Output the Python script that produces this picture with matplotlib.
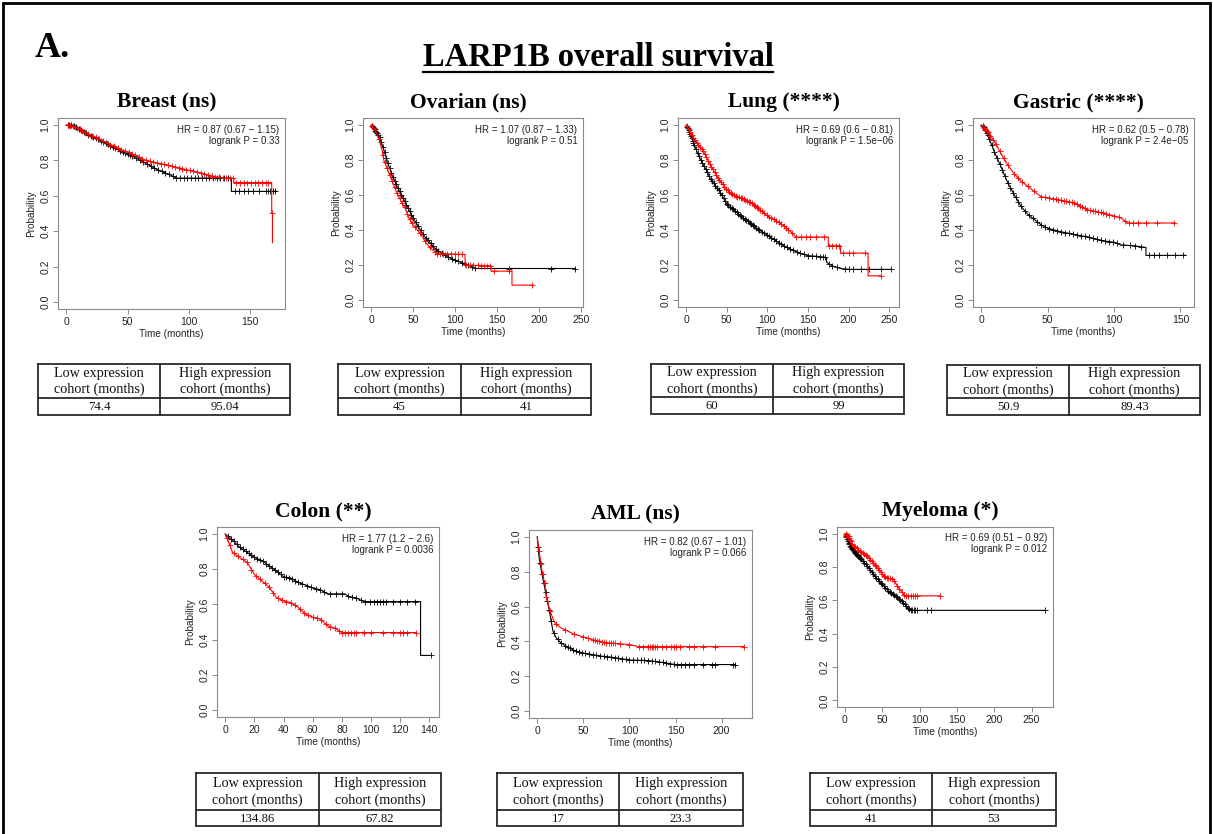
import numpy as np
import matplotlib.pyplot as plt

# ---------------------------------------------------------------
# KM curve knots (time in months, survival)
# low = black, high = red
# ---------------------------------------------------------------
breast_low_t = [0, 5, 10, 16, 30, 44, 55, 65, 75, 85, 90, 96, 135, 135, 172]
breast_low_s = [1, 1.0, 0.98, 0.953, 0.906, 0.855, 0.82, 0.784, 0.746, 0.718, 0.70, 0.70, 0.70, 0.625, 0.625]
breast_low_c = [1, 2, 4, 6, 8, 10, 12, 14, 16, 18, 20, 22, 24, 26, 28, 30, 32, 34, 36, 38, 40, 42, 44, 46, 48, 50,
                52, 54, 57, 60, 63, 66, 69, 72, 75, 78, 81, 84, 87, 90, 93, 96, 99, 102, 105, 108, 111, 114, 117,
                120, 123, 126, 129, 132, 138, 141, 145, 149, 153, 158, 163, 165, 167, 169, 171]
breast_high_t = [0, 8, 15, 30, 45, 55, 65, 75, 85, 100, 110, 120, 130, 137, 137, 168, 168, 168.6, 168.6]
breast_high_s = [1, 0.99, 0.96, 0.91, 0.86, 0.835, 0.80, 0.785, 0.77, 0.745, 0.73, 0.71, 0.70, 0.70, 0.675, 0.675,
                 0.505, 0.505, 0.335]
breast_high_c = [1, 3, 5, 7, 9, 11, 13, 15, 18, 21, 24, 27, 30, 33, 36, 39, 42, 45, 48, 51, 54, 56, 59, 62, 65, 68,
                 71, 74, 77, 80, 83, 86, 89, 92, 95, 98, 101, 104, 107, 110, 113, 116, 119, 122, 125, 128, 131, 134,
                 136, 139, 142, 145, 148, 151, 154, 157, 160, 163, 165, 168.3]

ovarian_low_t = [0, 5, 10, 15, 20, 25, 30, 35, 40, 45, 50, 55, 60, 65, 70, 75, 80, 90, 100, 110, 120, 125, 243]
ovarian_low_s = [1, 0.968, 0.93, 0.86, 0.78, 0.715, 0.66, 0.61, 0.565, 0.516, 0.47, 0.43, 0.39, 0.355, 0.33, 0.30,
                 0.28, 0.25, 0.228, 0.21, 0.19, 0.18, 0.18]
ovarian_low_c = [1, 2, 3, 4, 5, 6, 7, 8, 10, 12, 14, 16, 18, 20, 22, 24, 26, 28, 30, 32, 34, 36, 38, 40, 42, 44, 46,
                 48, 50, 53, 56, 59, 62, 65, 68, 71, 74, 77, 80, 84, 88, 92, 96, 100, 104, 108, 112, 116, 120, 124,
                 165, 214, 243]
ovarian_high_t = [0, 5, 10, 13, 15, 20, 25, 30, 35, 40, 45, 50, 55, 60, 65, 70, 75, 80, 85, 112, 112, 143, 143, 168,
                  168, 193]
ovarian_high_s = [1, 0.97, 0.91, 0.86, 0.80, 0.74, 0.68, 0.62, 0.57, 0.53, 0.47, 0.43, 0.40, 0.37, 0.33, 0.30, 0.28,
                  0.26, 0.265, 0.26, 0.200, 0.195, 0.165, 0.165, 0.085, 0.085]
ovarian_high_c = [1, 4, 9, 14, 16, 19, 22, 25, 28, 31, 34, 37, 40, 43, 46, 49, 52, 58, 64, 70, 76, 79, 82, 86, 90, 95,
                  100, 104, 108, 113, 118, 122, 128, 131, 135, 138, 142, 146, 165, 192]

lung_low_t = [0, 5, 10, 15, 20, 25, 30, 40, 50, 60, 70, 80, 90, 100, 110, 120, 130, 140, 150, 160, 170, 173, 173,
              180, 190, 200, 252]
lung_low_s = [1, 0.95, 0.885, 0.83, 0.78, 0.74, 0.69, 0.63, 0.55, 0.51, 0.47, 0.435, 0.40, 0.37, 0.34, 0.31, 0.287,
              0.268, 0.253, 0.25, 0.245, 0.24, 0.215, 0.195, 0.18, 0.175, 0.175]
lung_low_c = [1, 2, 3, 4, 5, 6, 7, 8, 9, 10, 12, 14, 16, 18, 20, 22, 24, 26, 28, 30, 32, 34, 36, 38, 40, 42, 44, 46,
              48, 50, 52, 54, 56, 58, 60, 62, 64, 66, 68, 70, 72, 74, 76, 78, 80, 82, 84, 86, 88, 90, 93, 96, 99,
              102, 105, 108, 111, 114, 117, 120, 124, 128, 132, 136, 140, 145, 150, 155, 160, 165, 168, 171, 176,
              180, 186, 195, 200, 205, 215, 225, 240, 252]
lung_high_t = [0, 5, 10, 15, 20, 30, 40, 50, 60, 70, 80, 90, 100, 110, 120, 130, 135, 175, 175, 190, 190, 224, 224,
               240]
lung_high_s = [1, 0.96, 0.92, 0.885, 0.86, 0.77, 0.69, 0.63, 0.595, 0.58, 0.555, 0.52, 0.48, 0.455, 0.425, 0.385,
               0.36, 0.36, 0.31, 0.31, 0.268, 0.268, 0.138, 0.138]
lung_high_c = [1, 3, 5, 7, 9, 11, 13, 15, 17, 19, 21, 23, 25, 27, 29, 31, 33, 35, 37, 39, 41, 43, 45, 47, 49, 51, 53,
               55, 57, 59, 61, 63, 65, 67, 69, 71, 73, 75, 77, 79, 81, 83, 85, 87, 89, 91, 93, 96, 99, 102, 105, 108,
               111, 114, 117, 120, 123, 126, 130, 135, 141, 147, 153, 160, 170, 176, 180, 184, 188, 193, 200, 205,
               220, 240]

gastric_low_t = [0, 2, 5, 8, 10, 15, 20, 25, 30, 35, 40, 45, 50, 60, 70, 80, 90, 100, 105, 115, 124, 124, 154]
gastric_low_s = [1, 0.99, 0.94, 0.885, 0.845, 0.76, 0.67, 0.60, 0.535, 0.49, 0.46, 0.43, 0.41, 0.39, 0.375, 0.36,
                 0.34, 0.33, 0.315, 0.31, 0.30, 0.255, 0.255]
gastric_low_c = [1, 2, 3, 4, 5, 6, 8, 10, 12, 14, 16, 18, 20, 22, 24, 26, 28, 30, 33, 36, 39, 42, 45, 48, 51, 54, 57,
                 60, 63, 66, 69, 72, 75, 78, 81, 84, 87, 90, 93, 96, 99, 102, 107, 112, 116, 120, 126, 130, 134, 140,
                 146, 152]
gastric_high_t = [0, 5, 10, 15, 20, 25, 30, 35, 40, 45, 50, 60, 70, 75, 80, 90, 100, 105, 110, 146]
gastric_high_s = [1, 0.96, 0.905, 0.835, 0.77, 0.72, 0.68, 0.65, 0.62, 0.59, 0.585, 0.57, 0.555, 0.535, 0.515, 0.50,
                  0.48, 0.47, 0.44, 0.44]
gastric_high_c = [1, 2, 3, 4, 5, 7, 9, 11, 14, 17, 20, 25, 28, 31, 35, 40, 45, 48, 51, 54, 56, 58, 60, 62, 64, 66,
                  68, 70, 72, 74, 76, 78, 80, 82, 84, 86, 88, 90, 92, 94, 96, 100, 104, 108, 111, 114, 118, 124, 132,
                  145]

colon_low_t = [0, 5, 10, 15, 20, 25, 30, 35, 40, 45, 50, 55, 60, 65, 70, 82, 85, 90, 95, 134, 134, 141]
colon_low_s = [1, 0.966, 0.924, 0.896, 0.867, 0.85, 0.82, 0.79, 0.757, 0.75, 0.725, 0.71, 0.693, 0.684, 0.66, 0.66,
               0.644, 0.636, 0.616, 0.616, 0.31, 0.31]
colon_low_c = [2, 4, 6, 8, 10, 12, 14, 16, 18, 20, 22, 24, 26, 28, 30, 32, 34, 36, 38, 40, 42, 44, 46, 48, 50, 53,
               56, 59, 62, 65, 68, 72, 76, 80, 84, 87, 90, 93, 96, 99, 102, 104, 106, 108, 110, 115, 120, 125, 130,
               141]
colon_high_t = [0, 3, 5, 10, 15, 20, 25, 30, 35, 40, 45, 50, 55, 60, 65, 70, 75, 80, 131]
colon_high_s = [1, 0.94, 0.896, 0.867, 0.84, 0.77, 0.735, 0.70, 0.64, 0.62, 0.61, 0.583, 0.545, 0.527, 0.517, 0.48,
                0.466, 0.44, 0.44]
colon_high_c = [1, 3, 6, 9, 12, 15, 18, 21, 24, 27, 30, 33, 36, 39, 42, 45, 48, 51, 54, 57, 60, 63, 66, 69, 72, 75,
                78, 80, 82, 84, 86, 88, 90, 95, 100, 108, 115, 120, 122, 125, 131]

aml_low_t = [0, 2, 5, 8, 10, 13, 15, 17, 20, 25, 30, 35, 40, 50, 60, 70, 80, 100, 120, 135, 150, 215]
aml_low_s = [1, 0.88, 0.79, 0.71, 0.655, 0.58, 0.52, 0.46, 0.425, 0.395, 0.376, 0.363, 0.348, 0.333, 0.324, 0.315,
             0.31, 0.293, 0.29, 0.28, 0.267, 0.267]
aml_low_c = [1, 3, 5, 7, 9, 11, 13, 15, 18, 22, 26, 30, 33, 36, 39, 42, 45, 48, 52, 56, 60, 64, 68, 72, 76, 80, 84,
             88, 92, 96, 100, 104, 108, 112, 116, 120, 124, 128, 132, 136, 140, 144, 148, 152, 156, 160, 165, 170,
             180, 190, 193, 212, 215]
aml_high_t = [0, 2, 5, 8, 10, 13, 15, 17, 20, 25, 30, 35, 40, 45, 50, 60, 70, 80, 100, 110, 224]
aml_high_s = [1, 0.92, 0.81, 0.734, 0.656, 0.59, 0.56, 0.53, 0.50, 0.48, 0.467, 0.454, 0.44, 0.434, 0.425, 0.41,
              0.396, 0.39, 0.382, 0.37, 0.37]
aml_high_c = [2, 4, 6, 8, 10, 14, 20, 30, 40, 50, 55, 60, 63, 65, 67, 70, 72, 75, 78, 80, 82, 84, 90, 100, 110, 115,
              120, 122, 124, 126, 128, 130, 135, 140, 145, 148, 150, 155, 165, 170, 180, 193, 224]

myeloma_low_t = [0, 5, 10, 20, 30, 40, 50, 60, 70, 80, 85, 90, 268]
myeloma_low_s = [1, 0.944, 0.905, 0.855, 0.806, 0.746, 0.696, 0.647, 0.617, 0.577, 0.548, 0.54, 0.54]
myeloma_low_c = [1, 2, 3, 4, 5, 6, 7, 8, 9, 10, 11, 12, 13, 14, 15, 16, 17, 18, 19, 20, 22, 24, 26, 28, 30, 32, 34,
                 36, 38, 40, 42, 44, 46, 48, 50, 52, 54, 56, 58, 60, 62, 64, 66, 68, 70, 72, 74, 76, 78, 80, 82, 84,
                 86, 88, 90, 92, 94, 96, 110, 115, 268]
myeloma_high_t = [0, 5, 10, 20, 30, 40, 45, 50, 55, 65, 70, 75, 80, 127]
myeloma_high_s = [1, 0.985, 0.935, 0.895, 0.865, 0.815, 0.786, 0.756, 0.736, 0.726, 0.686, 0.657, 0.627, 0.627]
myeloma_high_c = [1, 2, 3, 4, 5, 6, 7, 8, 10, 12, 14, 16, 18, 20, 22, 24, 26, 28, 30, 32, 34, 36, 38, 40, 42, 44,
                  46, 48, 50, 52, 54, 56, 58, 60, 63, 66, 70, 73, 76, 79, 82, 85, 88, 91, 94, 97, 127]

titles = ["Breast (ns)", "Ovarian (ns)", "Lung (****)", "Gastric (****)", "Colon (**)", "AML (ns)", "Myeloma (*)"]
hr_text = ["HR = 0.87 (0.67 \u2212 1.15)", "HR = 1.07 (0.87 \u2212 1.33)", "HR = 0.69 (0.6 \u2212 0.81)",
           "HR = 0.62 (0.5 \u2212 0.78)", "HR = 1.77 (1.2 \u2212 2.6)", "HR = 0.82 (0.67 \u2212 1.01)",
           "HR = 0.69 (0.51 \u2212 0.92)"]
p_text = ["logrank P = 0.33", "logrank P = 0.51", "logrank P = 1.5e\u221206", "logrank P = 2.4e\u221205",
          "logrank P = 0.0036", "logrank P = 0.066", "logrank P = 0.012"]
xticks = [[0, 50, 100, 150], [0, 50, 100, 150, 200, 250], [0, 50, 100, 150, 200, 250], [0, 50, 100, 150],
          [0, 20, 40, 60, 80, 100, 120, 140], [0, 50, 100, 150, 200], [0, 50, 100, 150, 200, 250]]
low_median = ["74.4", "45", "60", "50.9", "134.86", "17", "41"]
high_median = ["95.04", "41", "99", "89.43", "67.82", "23.3", "53"]

curves = [
    (breast_low_t, breast_low_s, breast_low_c, breast_high_t, breast_high_s, breast_high_c),
    (ovarian_low_t, ovarian_low_s, ovarian_low_c, ovarian_high_t, ovarian_high_s, ovarian_high_c),
    (lung_low_t, lung_low_s, lung_low_c, lung_high_t, lung_high_s, lung_high_c),
    (gastric_low_t, gastric_low_s, gastric_low_c, gastric_high_t, gastric_high_s, gastric_high_c),
    (colon_low_t, colon_low_s, colon_low_c, colon_high_t, colon_high_s, colon_high_c),
    (aml_low_t, aml_low_s, aml_low_c, aml_high_t, aml_high_s, aml_high_c),
    (myeloma_low_t, myeloma_low_s, myeloma_low_c, myeloma_high_t, myeloma_high_s, myeloma_high_c),
]

# ---------------------------------------------------------------
# layout in pixels: plot boxes (l, t, r, b), tables (l, t, r, b, col split, row split)
# ---------------------------------------------------------------
W, H = 1213, 834
boxes = [(58, 118, 285, 309), (363, 118, 583, 307), (678, 118, 899, 307), (973, 118, 1194, 307),
         (217, 527, 439, 717), (529, 530, 752, 718), (837, 527, 1053, 707)]
tables = [(38, 364, 290, 415, 160, 398), (338, 364, 591, 415, 461, 398), (651, 364, 904, 414, 773, 397),
          (947, 365, 1200, 415, 1069, 398), (196, 773, 441, 826, 319, 810), (497, 773, 743, 826, 619, 810),
          (810, 773, 1056, 826, 932, 810)]

SANS = ["Liberation Sans", "DejaVu Sans"]
SERIF = ["Liberation Serif", "DejaVu Serif"]
BOX = "#8a8a8a"

fig = plt.figure(figsize=(W / 100, H / 100), dpi=100)

# overlay in pixel coordinates for titles, tables and frame
over = fig.add_axes([0, 0, 1, 1])
over.set_xlim(0, W)
over.set_ylim(H, 0)
over.axis("off")

# outer frame
over.plot([3, 3, 1210, 1210], [H + 5, 3, 3, H + 5], color="black", lw=2, solid_joinstyle="miter")

over.text(35, 48, "A.", family=SERIF, fontweight="bold", fontsize=26, ha="left", va="center")
title = over.text(598, 66, "LARP1B overall survival", family=SERIF, fontweight="bold", fontsize=23.5,
                  ha="center", va="baseline")

for i in range(7):
    l, t, r, b = boxes[i]
    ax = fig.add_axes([l / W, 1 - b / H, (r - l) / W, (b - t) / H])
    lt, ls, lc, ht, hs, hc = curves[i]
    for tt, ss, cc, col in [(lt, ls, lc, "black"), (ht, hs, hc, "red")]:
        ax.plot(tt, ss, color=col, lw=0.8)
        ax.plot(cc, np.interp(cc, tt, ss), ls="none", marker="+", ms=4, mew=0.6, color=col)
    xmax = max(max(lt), max(ht))
    ax.set_xlim(-0.04 * xmax, 1.04 * xmax)
    ax.set_ylim(-0.04, 1.04)
    ax.set_xticks(xticks[i])
    ax.set_yticks([0, 0.2, 0.4, 0.6, 0.8, 1.0])
    ax.set_yticklabels(["0.0", "0.2", "0.4", "0.6", "0.8", "1.0"])
    for sp in ax.spines.values():
        sp.set_color(BOX)
        sp.set_linewidth(0.8)
    ax.tick_params(length=3.5, width=0.7, color=BOX, labelsize=7.5, labelcolor="#222222", pad=2)
    ax.tick_params(axis="y", labelrotation=90)
    for lab in ax.get_yticklabels():
        lab.set_va("center")
        lab.set_family(SANS)
    for lab in ax.get_xticklabels():
        lab.set_family(SANS)
    ax.set_xlabel("Time (months)", family=SANS, fontsize=7.2, color="#222222", labelpad=2)
    ax.set_ylabel("Probability", family=SANS, fontsize=7.2, color="#222222", labelpad=3)
    ax.text(0.975, 0.965, hr_text[i] + "\n" + p_text[i], transform=ax.transAxes, ha="right", va="top",
            family=SANS, fontsize=7, color="#222222", linespacing=1.15, multialignment="right")
    # panel title
    over.text((l + r) / 2 - 5, t - 16, titles[i], family=SERIF, fontweight="bold", fontsize=15.5,
              ha="center", va="center")

# tables
for i in range(7):
    l, t, r, b, cx, cy = tables[i]
    over.plot([l, r, r, l, l], [t, t, b, b, t], color="#2a2a2a", lw=1.3, solid_joinstyle="miter")
    over.plot([l, r], [cy, cy], color="#2a2a2a", lw=1.3)
    over.plot([cx, cx], [t, b], color="#2a2a2a", lw=1.3)
    over.text((l + cx) / 2, (t + cy) / 2 + 0.5, "Low expression\ncohort (months)", family=SERIF, fontsize=10.2,
              ha="center", va="center", linespacing=1.3, color="#111111")
    over.text((cx + r) / 2, (t + cy) / 2 + 0.5, "High expression\ncohort (months)", family=SERIF, fontsize=10.2,
              ha="center", va="center", linespacing=1.3, color="#111111")
    over.text((l + cx) / 2, (cy + b) / 2 + 0.5, low_median[i], family=SERIF, fontsize=9.2, ha="center",
              va="center", color="#111111")
    over.text((cx + r) / 2, (cy + b) / 2 + 0.5, high_median[i], family=SERIF, fontsize=9.2, ha="center",
              va="center", color="#111111")

# underline main title
fig.canvas.draw()
bb = title.get_window_extent()
over.plot([bb.x0, bb.x1], [H - bb.y0 - 1, H - bb.y0 - 1], color="black", lw=1.6)

fig.savefig("out.png", dpi=100)
